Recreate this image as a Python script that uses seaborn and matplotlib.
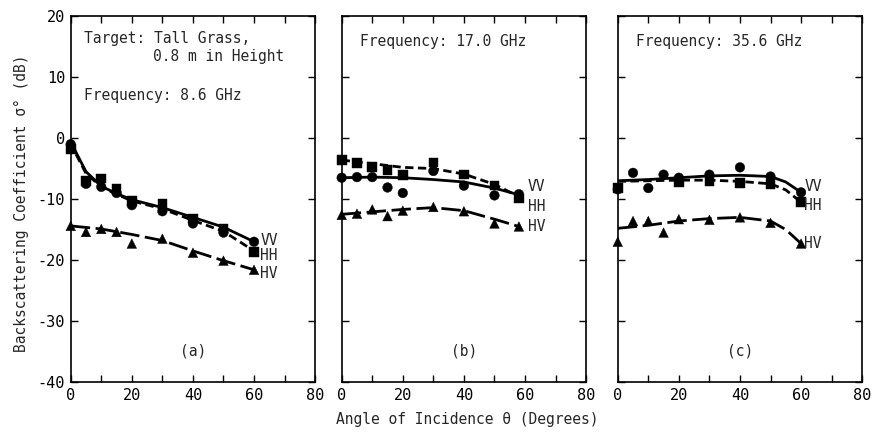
import numpy as np
import pandas as pd
import matplotlib
matplotlib.use("Agg")
import matplotlib.pyplot as plt
import seaborn as sns

# ---------------- data ----------------
panels = ["(a)", "(b)", "(c)"]
freq_text = ["Frequency: 8.6 GHz", "Frequency: 17.0 GHz", "Frequency: 35.6 GHz"]

# measured points
a_ang = [0, 5, 10, 15, 20, 30, 40, 50, 60]
a_vv = [-1.0, -7.5, -8.0, -9.0, -11.0, -12.0, -14.0, -15.5, -17.0]
a_hh = [-1.8, -7.0, -6.6, -8.3, -10.3, -10.8, -13.2, -14.8, -18.7]
a_hv = [-14.4, -15.4, -14.9, -15.4, -17.3, -16.5, -18.8, -20.1, -21.6]

b_ang = [0, 5, 10, 15, 20, 30, 40, 50, 58]
b_vv = [-6.5, -6.4, -6.4, -8.1, -9.0, -5.4, -7.8, -9.4, -9.2]
b_hh = [-3.6, -4.1, -4.7, -5.2, -6.1, -4.0, -6.0, -7.8, -9.9]
b_hv = [-12.6, -12.4, -11.7, -12.8, -11.9, -11.3, -12.0, -14.0, -14.5]

c_ang = [0, 5, 10, 15, 20, 30, 40, 50, 60]
c_vv = [-8.4, -5.7, -8.2, -6.0, -6.5, -6.0, -4.8, -6.3, -8.9]
c_hh_ang = [0, 20, 30, 40, 50, 60]
c_hh = [-8.2, -7.2, -7.1, -7.4, -7.5, -10.5]
c_hv = [-17.0, -13.6, -13.6, -15.5, -13.3, -13.4, -13.0, -13.9, -17.3]

# fitted curves
a_fit_ang = [0, 2, 5, 10, 15, 20, 30, 40, 50, 60]
a_fit_vv = [-0.5, -2.6, -5.5, -7.9, -9.1, -10.1, -11.4, -13.0, -14.6, -17.0]
a_fit_hh = [-0.8, -2.9, -5.8, -8.0, -9.2, -10.3, -11.6, -13.5, -15.3, -18.5]
a_fit_hv_ang = [0, 10, 20, 30, 40, 50, 60]
a_fit_hv = [-14.4, -14.9, -15.8, -16.8, -18.5, -20.1, -21.6]

b_fit_ang = [0, 10, 20, 30, 40, 50, 58]
b_fit_vv = [-6.5, -6.4, -6.5, -6.8, -7.2, -8.2, -9.3]
b_fit_hh = [-3.6, -4.2, -4.8, -5.0, -5.9, -7.6, -9.6]
b_fit_hv = [-12.5, -12.1, -11.7, -11.4, -11.9, -13.3, -14.5]

c_fit_ang = [0, 10, 20, 30, 40, 50, 55, 60]
c_fit_vv = [-7.0, -6.8, -6.5, -6.2, -6.1, -6.3, -7.2, -8.9]
c_fit_hh = [-7.1, -7.0, -6.9, -6.9, -7.1, -7.5, -8.5, -10.5]
c_fit_hv = [-14.8, -14.3, -13.6, -13.2, -13.0, -13.6, -15.0, -17.3]

label_y = {"(a)": (-16.8, -19.3, -22.2), "(b)": (-8.0, -11.2, -14.5), "(c)": (-8.0, -11.0, -17.3)}
label_x = {"(a)": 62, "(b)": 61, "(c)": 61}

# ---------------- tables ----------------
pts = []
def add_pts(panel, pol, ang, val):
    for x, y in zip(ang, val):
        pts.append(dict(panel=panel, pol=pol, angle=x, sigma=y))
add_pts("(a)", "VV", a_ang, a_vv); add_pts("(a)", "HH", a_ang, a_hh); add_pts("(a)", "HV", a_ang, a_hv)
add_pts("(b)", "VV", b_ang, b_vv); add_pts("(b)", "HH", b_ang, b_hh); add_pts("(b)", "HV", b_ang, b_hv)
add_pts("(c)", "VV", c_ang, c_vv); add_pts("(c)", "HH", c_hh_ang, c_hh); add_pts("(c)", "HV", c_ang, c_hv)
pts = pd.DataFrame(pts)

fits = []
def add_fit(panel, pol, ang, val):
    for x, y in zip(ang, val):
        fits.append(dict(panel=panel, pol=pol, angle=x, sigma=y))
add_fit("(a)", "VV", a_fit_ang, a_fit_vv); add_fit("(a)", "HH", a_fit_ang, a_fit_hh)
add_fit("(a)", "HV", a_fit_hv_ang, a_fit_hv)
add_fit("(b)", "VV", b_fit_ang, b_fit_vv); add_fit("(b)", "HH", b_fit_ang, b_fit_hh)
add_fit("(b)", "HV", b_fit_ang, b_fit_hv)
add_fit("(c)", "VV", c_fit_ang, c_fit_vv); add_fit("(c)", "HH", c_fit_ang, c_fit_hh)
add_fit("(c)", "HV", c_fit_ang, c_fit_hv)
fits = pd.DataFrame(fits)

# ---------------- style ----------------
sns.set_style("ticks")
FONT = ["DejaVu Sans Mono", "DejaVu Sans"]
plt.rcParams["font.family"] = FONT
plt.rcParams["xtick.direction"] = "in"
plt.rcParams["ytick.direction"] = "in"

markers = {"VV": "o", "HH": "s", "HV": "^"}
dashes = {"VV": "", "HH": (3, 1.6), "HV": (7, 2)}

fig = plt.figure(figsize=(8.73, 4.32), dpi=100)
lefts = [0.081, 0.3914, 0.7076]
width, bottom, height = 0.280, 0.1157, 0.847

for i, p in enumerate(panels):
    ax = fig.add_axes([lefts[i], bottom, width, height])
    dfl = fits[fits.panel == p]
    sns.lineplot(data=dfl, x="angle", y="sigma", hue="pol", style="pol",
                 palette={"VV": "black", "HH": "black", "HV": "black"},
                 dashes=dashes, linewidth=2.0, legend=False, ax=ax, sort=False)
    dfp = pts[pts.panel == p]
    sns.scatterplot(data=dfp, x="angle", y="sigma", style="pol", markers=markers,
                    color="black", s=48, edgecolor="black", linewidth=0.3,
                    legend=False, ax=ax, zorder=3, clip_on=False)
    ax.set_xlim(0, 80)
    ax.set_ylim(-40, 20)
    ax.set_xticks(np.arange(0, 81, 10))
    ax.set_xticklabels([str(v) if v % 20 == 0 else "" for v in range(0, 81, 10)])
    ax.set_yticks(np.arange(-40, 21, 10))
    if i == 0:
        ax.set_yticklabels([str(v) for v in range(-40, 21, 10)])
    else:
        ax.set_yticklabels([])
    ax.tick_params(axis="both", which="major", direction="in", top=True, right=True,
                   length=5, width=1, labelsize=11, pad=4, colors="black")
    for s in ax.spines.values():
        s.set_linewidth(1.2)
        s.set_color("black")
    ax.set_xlabel("")
    ax.set_ylabel("")
    ax.text(0.5, 0.085, p, transform=ax.transAxes, ha="center", va="center", fontsize=10.5)
    for pol, yy in zip(["VV", "HH", "HV"], label_y[p]):
        ax.text(label_x[p], yy, pol, ha="left", va="center", fontsize=10.5)
    if i == 0:
        ax.text(4.5, 16.3, "Target: Tall Grass,", ha="left", va="center", fontsize=10.5)
        ax.text(27.0, 13.3, "0.8 m in Height", ha="left", va="center", fontsize=10.5)
        ax.text(4.5, 7.0, freq_text[0], ha="left", va="center", fontsize=10.5)
    else:
        ax.text(6.0, 15.8, freq_text[i], ha="left", va="center", fontsize=10.5)

fig.text(0.025, 0.53, "Backscattering Coefficient σ° (dB)", rotation=90,
         ha="center", va="center", fontsize=10.5)
fig.text(0.535, 0.03, "Angle of Incidence θ (Degrees)", ha="center", va="center",
         fontsize=10.5)

fig.savefig("out.png", dpi=100)
